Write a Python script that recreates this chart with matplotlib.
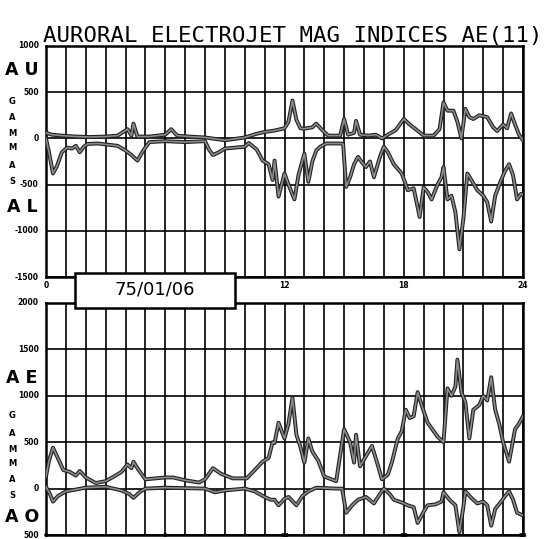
import matplotlib
matplotlib.use('Agg')
import matplotlib.pyplot as plt
import matplotlib.patheffects as pe
from matplotlib.patches import Rectangle

# hourly UT axis, values in gammas
au_h = [0, 0.3, 0.8, 1.5, 2.2, 3.0, 3.6, 4.1, 4.3, 4.4, 4.6, 5.2, 6.0, 6.3, 6.6, 7.2, 8.0, 9.0, 10.0,
        10.6, 11.0, 11.5, 12.0, 12.2, 12.4, 12.6, 12.8, 13.0, 13.4, 13.6, 13.9, 14.2, 14.8, 15.0, 15.2,
        15.5, 15.6, 15.8, 16.2, 16.6, 16.9, 17.2, 17.6, 18.0, 18.3, 18.6, 19.0, 19.5, 19.8, 20.0, 20.2,
        20.5, 20.7, 20.9, 21.1, 21.3, 21.5, 21.8, 22.2, 22.5, 22.7, 23.0, 23.2, 23.4, 23.6, 23.8, 24.0]
au = [60, 40, 30, 20, 15, 20, 30, 100, 30, 160, 20, 20, 40, 100, 30, 20, 10, -20, 10,
      50, 70, 85, 110, 180, 410, 200, 110, 105, 120, 160, 90, 30, 30, 210, 40,
      60, 190, 40, 30, 40, 0, 40, 90, 210, 150, 100, 30, 30, 100, 390, 300,
      300, 180, 0, 320, 230, 210, 250, 230, 120, 80, 150, 110, 270, 150, 40, -20]

al_h = [0, 0.15, 0.35, 0.55, 0.8, 1.06, 1.3, 1.5, 1.7, 1.9, 2.1, 2.6, 3.2, 3.6, 4.0, 4.3, 4.6, 4.9,
        5.2, 6.0, 7.0, 8.0, 8.2, 8.4, 8.7, 9.0, 9.5, 10.0, 10.2, 10.6, 10.9, 11.2, 11.4, 11.5, 11.7,
        12.0, 12.2, 12.5, 12.7, 13.0, 13.2, 13.4, 13.6, 13.8, 14.1, 14.8, 14.95, 15.1, 15.3, 15.5,
        15.7, 15.9, 16.1, 16.3, 16.5, 16.8, 17.0, 17.2, 17.5, 17.9, 18.2, 18.5, 18.8, 19.0, 19.2,
        19.4, 19.7, 19.9, 20.0, 20.2, 20.4, 20.6, 20.8, 21.0, 21.2, 21.4, 21.7, 22.0, 22.2, 22.4,
        22.6, 22.9, 23.1, 23.3, 23.5, 23.7, 23.9, 24.0]
al = [0, -150, -380, -300, -150, -100, -110, -80, -150, -90, -60, -55, -70, -80, -130, -180, -240, -130,
      -40, -30, -40, -30, -120, -180, -150, -110, -100, -90, -50, -120, -240, -280, -450, -240, -630,
      -380, -500, -660, -400, -165, -470, -250, -130, -90, -55, -55, -60, -525, -420, -280,
      -200, -260, -310, -250, -420, -200, -90, -150, -280, -380, -560, -540, -850, -530, -580,
      -660, -500, -420, -310, -660, -620, -800, -1200, -870, -380, -450, -560, -620, -690, -900,
      -620, -450, -350, -280, -400, -660, -600, -610]

ae_h = [0, 0.15, 0.35, 0.55, 0.87, 1.2, 1.5, 1.7, 2.0, 2.5, 3.0, 3.5, 3.8, 4.1, 4.3, 4.4, 4.6, 5.0,
        5.5, 6.0, 6.4, 7.0, 7.7, 8.0, 8.4, 8.8, 9.4, 10.1, 10.5, 10.9, 11.2, 11.4, 11.5, 11.7, 12.0,
        12.2, 12.4, 12.6, 12.8, 13.0, 13.2, 13.4, 13.7, 14.0, 14.6, 15.0, 15.3, 15.5, 15.6, 15.8,
        16.1, 16.4, 16.7, 16.9, 17.2, 17.4, 17.7, 17.9, 18.1, 18.3, 18.5, 18.7, 18.9, 19.2, 19.5,
        19.7, 20.0, 20.2, 20.4, 20.6, 20.7, 20.9, 21.1, 21.3, 21.5, 21.8, 22.0, 22.2, 22.4, 22.6,
        22.8, 23.0, 23.3, 23.6, 23.8, 24.0]
ae = [130, 300, 440, 350, 200, 180, 140, 190, 120, 60, 80, 140, 180, 260, 220, 290, 220, 100,
      110, 120, 120, 90, 65, 100, 220, 160, 110, 110, 200, 290, 330, 500, 490, 710, 540,
      700, 980, 580, 450, 280, 540, 400, 300, 130, 80, 640, 500, 280, 580, 240,
      350, 460, 250, 100, 150, 280, 540, 620, 850, 760, 780, 1040, 900, 710, 620,
      560, 500, 1080, 1000, 1100, 1390, 1040, 930, 540, 850, 900, 1000, 950, 1200, 850,
      700, 500, 290, 640, 700, 780]

ao_h = [0, 0.2, 0.35, 0.6, 1.0, 1.5, 2.0, 3.0, 3.8, 4.2, 4.4, 4.7, 5.0, 6.0, 7.0, 8.0, 8.5, 9.0,
        10.0, 10.5, 11.0, 11.3, 11.5, 11.7, 12.0, 12.2, 12.6, 12.9, 13.2, 13.6, 14.6, 14.9, 15.1,
        15.4, 15.7, 16.1, 16.5, 16.8, 17.0, 17.3, 17.5, 17.9, 18.2, 18.5, 18.7, 19.0, 19.2, 19.6,
        19.9, 20.0, 20.3, 20.6, 20.8, 21.0, 21.1, 21.4, 21.7, 22.0, 22.2, 22.4, 22.6, 22.9, 23.1,
        23.3, 23.5, 23.7, 24.0]
ao = [20, -60, -140, -80, -30, -10, 10, 20, -20, -60, -100, -40, 0, 10, 5, 0, -40, -20,
      0, -30, -90, -120, -120, -180, -110, -90, -180, -80, -30, 10, 0, 0, -260,
      -180, -120, -90, -160, -60, 0, -60, -120, -150, -180, -200, -370, -250, -180, -170,
      -140, -40, -120, -180, -470, -200, -30, -100, -160, -140, -180, -400, -220, -140, -80,
      -30, -120, -260, -290]

top_yticks = [1000, 500, 0, -500, -1000, -1500]
top_ylabels = ['1000', '500', '0', '-500', '-1000', '-1500']
bot_yticks = [2000, 1500, 1000, 500, 0, -500]
bot_ylabels = ['2000', '1500', '1000', '500', '0', '500']
top_hours = [0, 12, 18, 24]
top_hour_labels = ['0', '12', '18', '24']
bot_hours = [0, 6, 12, 18, 24]
bot_hour_labels = ['0', '6', '12', '18', '24']

W, H = 549, 539
fig = plt.figure(figsize=(W / 100, H / 100), dpi=100)
fig.patch.set_facecolor('white')


def fx(x):
    return x / W


def fy(y):
    return 1 - y / H


band = [pe.Stroke(linewidth=2.8, foreground='#202020'), pe.Normal()]


def panel(rect, ylim, yticks, ylabels):
    ax = fig.add_axes(rect)
    ax.set_xlim(0, 24)
    ax.set_ylim(*ylim)
    ax.set_xticks(range(25))
    ax.set_yticks(yticks)
    ax.grid(True, color='black', lw=1.2)
    ax.tick_params(length=0, labelleft=False, labelbottom=False)
    for s in ax.spines.values():
        s.set_linewidth(1.8)
    for v, lab in zip(yticks, ylabels):
        ax.text(-0.015, v, lab, transform=ax.get_yaxis_transform(), ha='right', va='center',
                fontsize=5.5, fontweight='bold', family='DejaVu Sans')
    return ax


def trace(ax, h, v):
    ax.plot(h, v, color='#8c8c8c', lw=1.2, path_effects=band, zorder=3)


ax1 = panel([fx(46), fy(277), fx(477), 231 / H], (-1500, 1000), top_yticks, top_ylabels)
trace(ax1, au_h, au)
trace(ax1, al_h, al)
for h, lab in zip(top_hours, top_hour_labels):
    ax1.text(h, -0.035, lab, transform=ax1.get_xaxis_transform(), ha='center', va='center',
             fontsize=5.5, fontweight='bold')

ax2 = panel([fx(46), fy(535), fx(477), 232 / H], (-500, 2000), bot_yticks, bot_ylabels)
trace(ax2, ae_h, ae)
trace(ax2, ao_h, ao)
for h, lab in zip(bot_hours, bot_hour_labels):
    fig.text(fx(46 + h * 477 / 24), 0.001, lab, ha='center', va='bottom',
             fontsize=4.5, fontweight='bold')

# title across the top
fig.text(fx(43), fy(42), 'AURORAL ELECTROJET MAG INDICES AE(11)', family='DejaVu Sans Mono',
         fontsize=16.1, ha='left', va='baseline')

# index names and unit column on the left
big = dict(fontsize=12.5, fontweight='bold', ha='center', va='center')
fig.text(fx(22), fy(70), 'A U', **big)
fig.text(fx(22), fy(207), 'A L', **big)
fig.text(fx(22), fy(378), 'A E', **big)
fig.text(fx(22), fy(517), 'A O', **big)
for ys in ([102, 118, 133, 148, 165, 182], [416, 433, 449, 464, 479, 495]):
    for y, ch in zip(ys, 'GAMMAS'):
        fig.text(fx(12), fy(y), ch, fontsize=6, fontweight='bold', ha='center', va='center')

# date box sitting over the gap between panels
fig.patches.append(Rectangle((fx(75), fy(308)), fx(160), 35 / H, transform=fig.transFigure,
                             facecolor='white', edgecolor='black', lw=1.8, zorder=5))
fig.text(fx(155), fy(290), '75/01/06', fontsize=13, ha='center', va='center', zorder=6)

fig.savefig('out.png', dpi=100)
